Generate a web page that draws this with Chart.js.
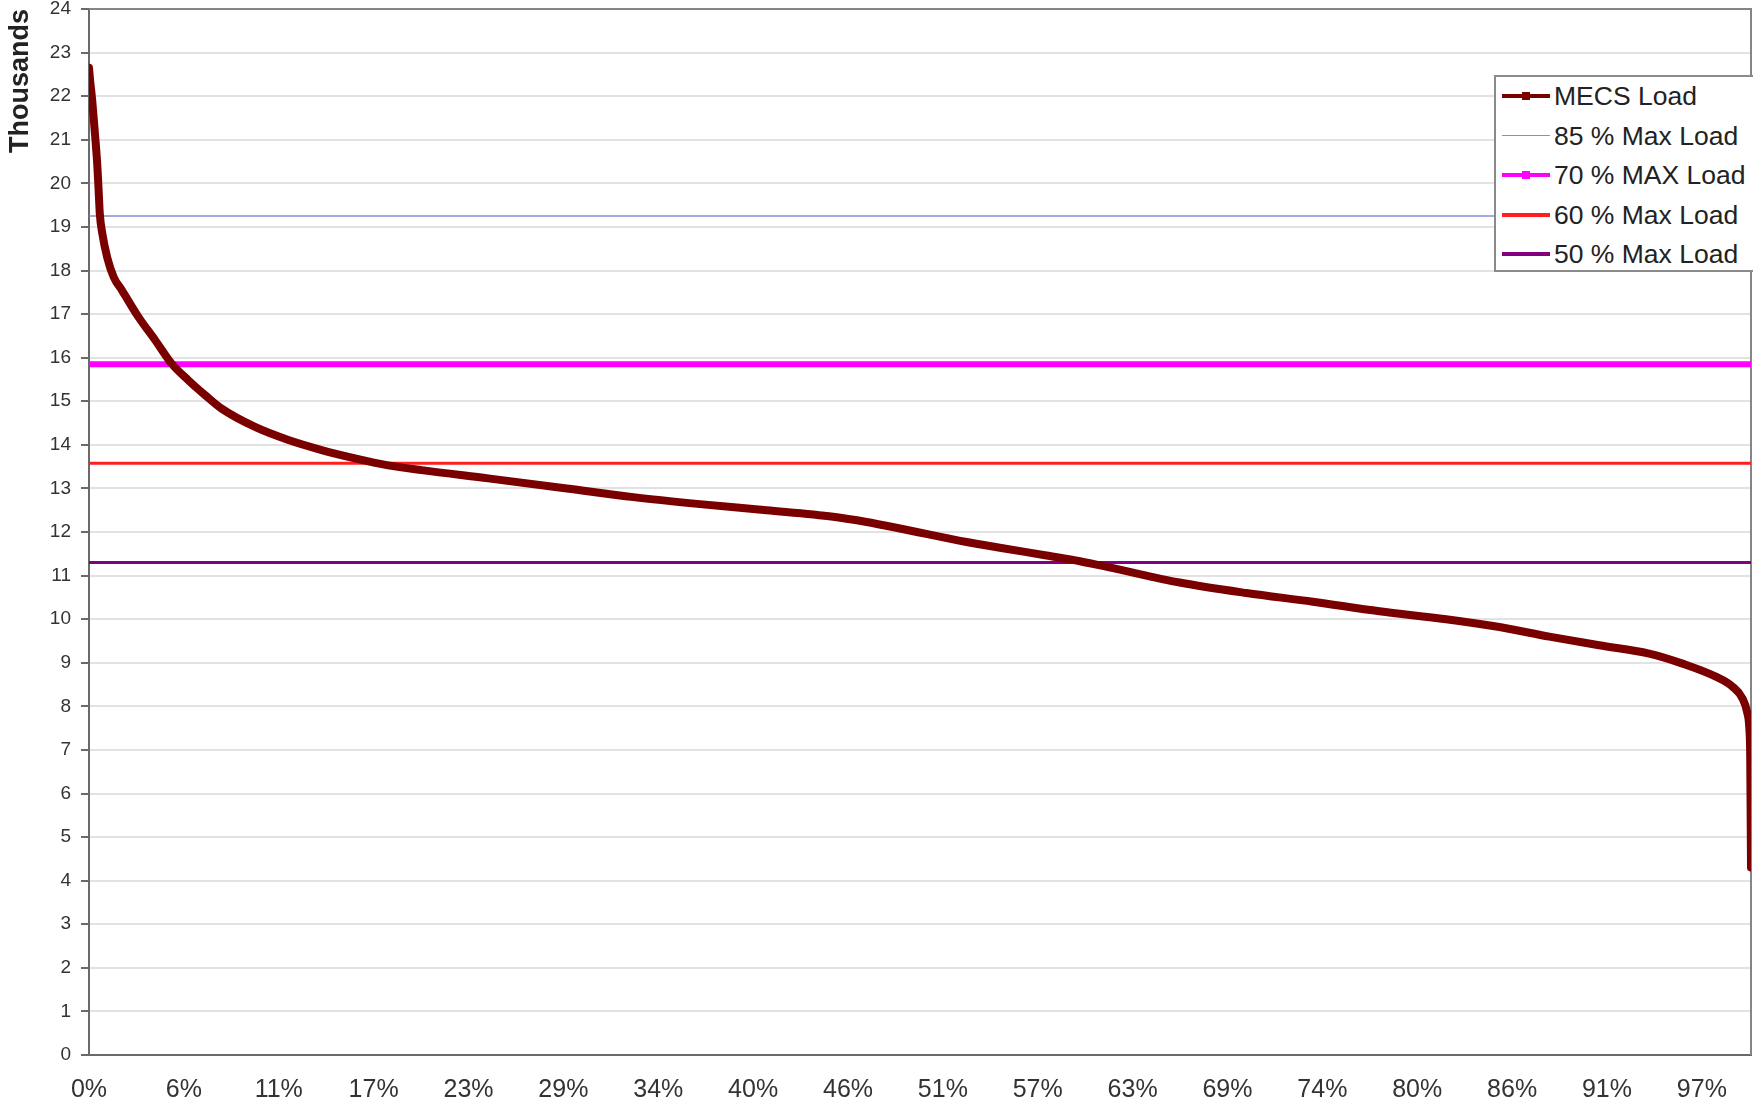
<!DOCTYPE html>
<html>
<head>
<meta charset="utf-8">
<script src="https://cdn.jsdelivr.net/npm/chart.js@4.4.1/dist/chart.umd.min.js"></script>
<style>
html,body{margin:0;padding:0;background:#fff;}
#wrap{position:relative;width:1753px;height:1104px;overflow:hidden;}
#legend{position:absolute;left:1494px;top:75px;width:262px;height:197px;box-sizing:border-box;border:2px solid #8a8a8a;background:#fff;font-family:'Liberation Sans',Arial,sans-serif;font-size:26.5px;color:#222;}
.row{position:absolute;left:0;height:30px;width:260px;}
.sample{position:absolute;left:6px;width:48px;}
.mk{position:absolute;width:8px;height:8px;left:26px;top:11px;}
.txt{position:absolute;left:58px;top:0;line-height:30px;white-space:nowrap;}
</style>
</head>
<body>
<div id="wrap">
<canvas id="c" width="1753" height="1104"></canvas>
<div id="legend"></div>
</div>
<script>
// ---- data (load in thousands, x = hour rank of the year) ----
const seriesLabels = ['MECS Load', '85 % Max Load', '70 % MAX Load', '60 % Max Load', '50 % Max Load'];
const yAxisTitle = 'Thousands';
const lastHour = 8759;
const loadHours  = [0, 5, 17, 34, 44, 50, 57, 70, 96, 131, 173, 261, 349, 436, 524, 612, 699, 875, 1051, 1226, 1402, 1577, 1753, 2104, 2518, 2869, 3220, 3571, 3922, 4098, 4274, 4625, 4800, 5046, 5222, 5397, 5748, 6099, 6450, 6801, 7152, 7433, 7696, 7959, 8222, 8398, 8574, 8662, 8714, 8740, 8750, 8755, 8759];
const loadValues = [22.65, 22.4, 21.9, 21.0, 20.4, 19.9, 19.3, 18.85, 18.3, 17.84, 17.55, 16.93, 16.40, 15.86, 15.48, 15.14, 14.83, 14.41, 14.11, 13.88, 13.69, 13.53, 13.42, 13.23, 13.0, 12.80, 12.64, 12.50, 12.35, 12.23, 12.08, 11.77, 11.64, 11.46, 11.33, 11.17, 10.84, 10.60, 10.40, 10.18, 10.0, 9.82, 9.60, 9.40, 9.21, 8.98, 8.68, 8.45, 8.18, 7.84, 7.5, 6.8, 4.3];
const refValues = [19.25, 15.85, 13.58, 11.3];
const xTickHours  = [0, 500, 1000, 1500, 2000, 2500, 3000, 3500, 4000, 4500, 5000, 5500, 6000, 6500, 7000, 7500, 8000, 8500];
const xTickLabels = ['0%', '6%', '11%', '17%', '23%', '29%', '34%', '40%', '46%', '51%', '57%', '63%', '69%', '74%', '80%', '86%', '91%', '97%'];

// ---- styles ----
const loadStyle = {color: '#7a0000', width: 8};
const refStyles = [
  {color: '#8a8ad6', width: 1.5},
  {color: '#ff00ff', width: 6},
  {color: '#ff1f1f', width: 3},
  {color: '#800080', width: 3}
];
const legendStyles = [
  {color: '#7a0000', h: 4, marker: true},
  {color: '#8a8ad6', h: 1.5, marker: false},
  {color: '#ff00ff', h: 4, marker: true},
  {color: '#ff1f1f', h: 4, marker: false},
  {color: '#800080', h: 4, marker: false}
];

Chart.defaults.font.family = "'Liberation Sans', Arial, sans-serif";

const frame = {
  id: 'frame',
  beforeDatasetsDraw(chart) {
    const {ctx, chartArea: a} = chart;
    ctx.save();
    ctx.strokeStyle = '#858585';
    ctx.lineWidth = 2;
    ctx.beginPath();
    ctx.moveTo(a.left, a.top);
    ctx.lineTo(a.right, a.top);
    ctx.lineTo(a.right, a.bottom);
    ctx.stroke();
    ctx.restore();
  }
};

const datasets = [{
  label: seriesLabels[0],
  data: loadHours.map((h, i) => ({x: h, y: loadValues[i]})),
  borderColor: loadStyle.color,
  borderWidth: loadStyle.width,
  pointRadius: 0,
  cubicInterpolationMode: 'monotone',
  borderJoinStyle: 'round',
  borderCapStyle: 'round'
}].concat(refValues.map((v, i) => ({
  label: seriesLabels[i + 1],
  data: [{x: 0, y: v}, {x: lastHour, y: v}],
  borderColor: refStyles[i].color,
  borderWidth: refStyles[i].width,
  pointRadius: 0
})));

function noPad(s) { s.paddingLeft = 0; s.paddingRight = 0; s.paddingTop = 0; s.paddingBottom = 0; }

const chart = new Chart(document.getElementById('c'), {
  type: 'line',
  data: {datasets},
  options: {
    responsive: false,
    animation: false,
    events: [],
    layout: {padding: {top: 9, right: 2, left: 0, bottom: 0}},
    plugins: {legend: {display: false}, tooltip: {enabled: false}},
    scales: {
      x: {
        type: 'linear', min: 0, max: lastHour,
        grid: {display: false, drawTicks: false},
        border: {display: true, color: '#6a6a6a', width: 2},
        afterBuildTicks: s => { s.ticks = xTickHours.map(h => ({value: h})); },
        ticks: {
          autoSkip: false, maxRotation: 0, minRotation: 0,
          padding: 20, color: '#333', font: {size: 25},
          callback: (v, i) => (xTickLabels[i] !== undefined ? xTickLabels[i] : '')
        },
        afterFit: s => { s.height = 49; noPad(s); }
      },
      y: {
        min: 0, max: 24,
        grid: {color: '#e2e2e2', lineWidth: 2, tickLength: 8, tickColor: '#6a6a6a', tickWidth: 2},
        border: {display: true, color: '#6a6a6a', width: 2},
        ticks: {stepSize: 1, padding: 10, color: '#333', font: {size: 19}},
        title: {display: true, text: yAxisTitle, align: 'end', color: '#222',
                font: {size: 27, weight: 'bold'}, padding: {top: 4, bottom: 0}},
        afterFit: s => { s.width = 89; noPad(s); }
      }
    }
  },
  plugins: [frame]
});

// ---- HTML legend built from the dataset labels ----
const leg = document.getElementById('legend');
chart.data.datasets.forEach((ds, i) => {
  const st = legendStyles[i];
  const row = document.createElement('div');
  row.className = 'row';
  row.style.top = (4 + i * 39.5) + 'px';
  const s = document.createElement('div');
  s.className = 'sample';
  s.style.height = st.h + 'px';
  s.style.top = (15 - st.h / 2) + 'px';
  s.style.background = st.color;
  row.appendChild(s);
  if (st.marker) {
    const m = document.createElement('div');
    m.className = 'mk';
    m.style.background = st.color;
    row.appendChild(m);
  }
  const t = document.createElement('div');
  t.className = 'txt';
  t.textContent = ds.label;
  row.appendChild(t);
  leg.appendChild(row);
});
</script>
</body>
</html>
